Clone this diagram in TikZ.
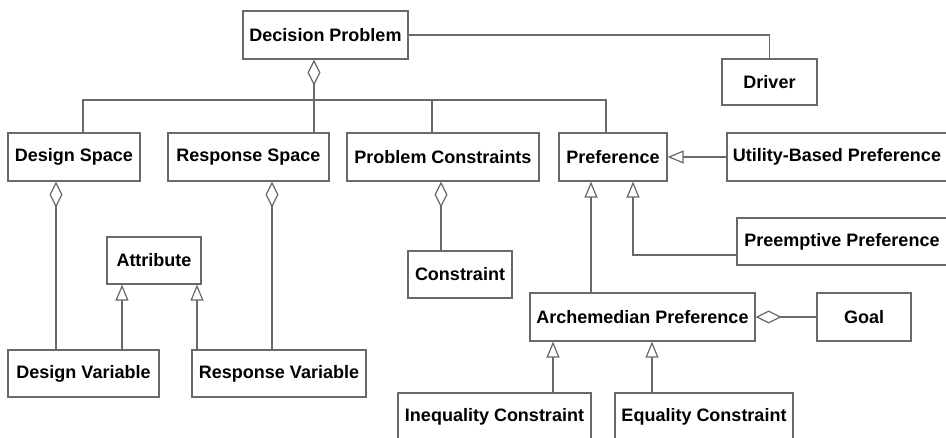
\documentclass[tikz,border=0pt]{standalone}
\usepackage{fontspec}
\setmainfont{Liberation Sans}
\usetikzlibrary{arrows.meta}
\definecolor{linegray}{RGB}{105,105,105}
\tikzset{
  box/.style={draw=linegray, line width=1.2pt, inner sep=0pt, fill=white,
    font=\fontsize{18}{20}\selectfont\bfseries, text=black},
  conn/.style={draw=linegray, line width=1.2pt},
  agg/.style={conn, -{Diamond[open, length=26pt, width=13pt, line width=1.2pt]}},
  gen/.style={conn, -{Triangle[open, length=16pt, width=13pt, line width=1.2pt]}}
}
\begin{document}
\begin{tikzpicture}[x=1pt, y=-1pt]
\fill[white] (0,0) rectangle (946,438);
\useasboundingbox (0,0) rectangle (946,438);

% nodes
\node[box, minimum width=165pt, minimum height=48pt] (dp) at (325.5,35) {Decision Problem};
\node[box, minimum width=95pt, minimum height=46pt] (dr) at (769.5,82) {Driver};
\node[box, minimum width=132pt, minimum height=48pt] (ds) at (74,157) {Design Space};
\node[box, minimum width=161pt, minimum height=48pt] (rs) at (248.5,157) {Response Space};
\node[box, minimum width=192pt, minimum height=48pt] (pc) at (443,157) {Problem Constraints};
\node[box, minimum width=108pt, minimum height=48pt] (pref) at (613,157) {Preference};
\node[box, minimum width=220pt, minimum height=48pt] (ubp) at (837,157) {Utility-Based Preference};
\node[box, minimum width=94pt, minimum height=47pt] (attr) at (154,260.5) {Attribute};
\node[box, minimum width=104pt, minimum height=47pt] (con) at (460,274.5) {Constraint};
\node[box, minimum width=210pt, minimum height=47pt] (pp) at (842,241.5) {Preemptive Preference};
\node[box, minimum width=225pt, minimum height=48pt] (ap) at (642.5,317) {Archemedian Preference};
\node[box, minimum width=94pt, minimum height=48pt] (goal) at (864,317) {Goal};
\node[box, minimum width=151pt, minimum height=47pt] (dv) at (83.5,373.5) {Design Variable};
\node[box, minimum width=174pt, minimum height=47pt] (rsv) at (279,373.5) {Response Variable};
\node[box, minimum width=193pt, minimum height=47pt] (ineq) at (494.5,416.5) {Inequality Constraint};
\node[box, minimum width=178pt, minimum height=47pt] (eq) at (704,416.5) {Equality Constraint};

% helper coordinates
\coordinate (busL) at (83,100);
\coordinate (busR) at (606,100);
\coordinate (rsx) at (314,100);
\coordinate (pcx) at (432,100);
\coordinate (dsx) at (56,0);
\coordinate (rvx) at (272,0);
\coordinate (ax1) at (122,0);
\coordinate (ax2) at (197,0);
\coordinate (cx) at (441,0);
\coordinate (apx) at (591,0);
\coordinate (ppj) at (633,255);
\coordinate (inx) at (553,0);
\coordinate (eqx) at (652,0);

% connectors
\draw[conn] (busL |- ds.north) -- (busL) -- (busR) -- (busR |- pref.north);
\draw[conn] (pcx) -- (pcx |- pc.north);
\draw[agg] (rsx |- rs.north) -- (rsx |- dp.south);
\draw[conn] (dp.east) -| (dr.north);

\draw[agg] (dsx |- dv.north) -- (dsx |- ds.south);
\draw[agg] (rvx |- rsv.north) -- (rvx |- rs.south);
\draw[gen] (ax1 |- dv.north) -- (ax1 |- attr.south);
\draw[gen] (ax2 |- rsv.north) -- (ax2 |- attr.south);
\draw[agg] (cx |- con.north) -- (cx |- pc.south);

\draw[gen] (ubp.west) -- (pref.east);
\draw[gen] (apx |- ap.north) -- (apx |- pref.south);
\draw[gen] (pp.west |- ppj) -- (ppj) -- (ppj |- pref.south);
\draw[agg] (goal.west) -- (ap.east);
\draw[gen] (inx |- ineq.north) -- (inx |- ap.south);
\draw[gen] (eqx |- eq.north) -- (eqx |- ap.south);
\end{tikzpicture}
\end{document}
